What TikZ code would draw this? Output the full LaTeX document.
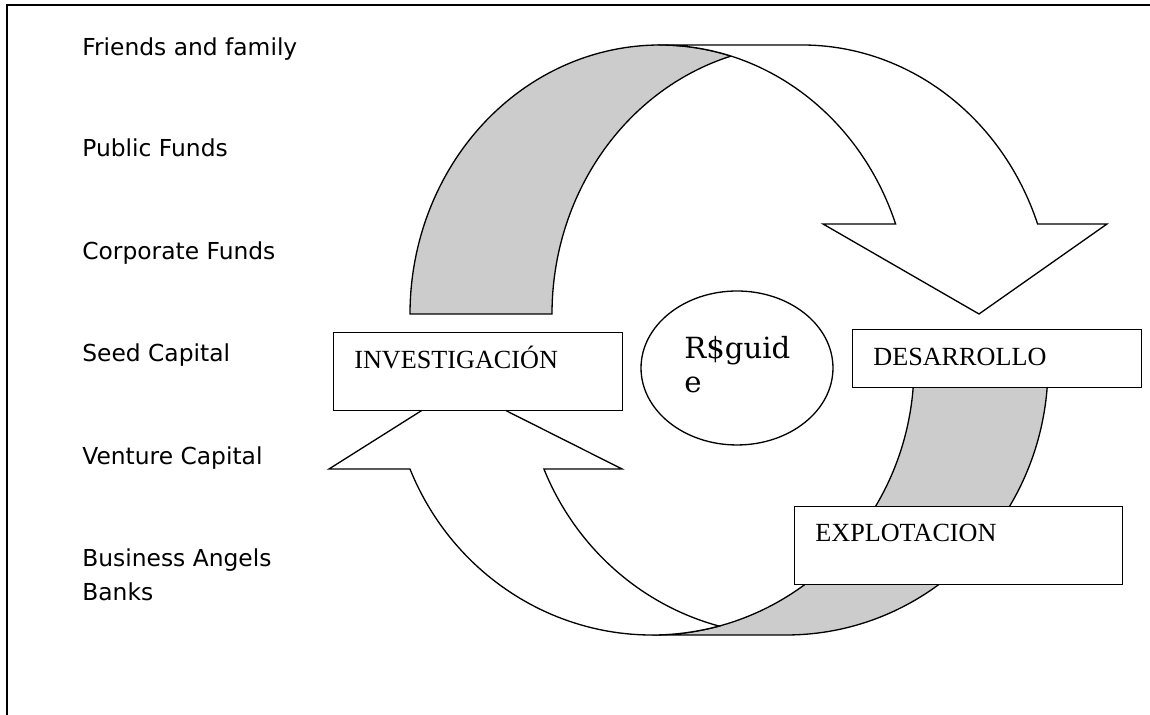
\documentclass[tikz,border=0pt]{standalone}
\usepackage{fontspec}
\setmainfont{Liberation Serif}
\newfontfamily\lsans{DejaVu Sans}
\newfontfamily\dserif{DejaVu Serif}
\usetikzlibrary{shapes.geometric}
\definecolor{band}{RGB}{204,204,204}
\tikzset{
  shape line/.style={draw=black, line width=0.75pt},
  stagebox/.style={draw=black, line width=0.75pt, fill=white, rectangle, anchor=south west, inner sep=0pt},
  stagetext/.style={anchor=base west, inner sep=0pt, font=\fontsize{14.9pt}{17pt}\selectfont},
  fundtext/.style={anchor=base west, inner sep=0pt, font=\lsans\fontsize{13.3pt}{19.3pt}\selectfont},
  centretext/.style={anchor=base west, inner sep=0pt, font=\dserif\fontsize{16.6pt}{21.5pt}\selectfont},
}
\begin{document}
\begin{tikzpicture}[x=0.02cm,y=0.02cm]
\useasboundingbox (0,0) rectangle (1150,715);
% frame
\draw[line width=1.1pt] (7,0) -- (7,710) -- (1150,710);

% top curved arrow: back (gray) part
\filldraw[shape line, fill=band] (410,401)
  arc[start angle=180, end angle=73.5, x radius=250, y radius=269]
  arc[start angle=106.5, end angle=180, x radius=250, y radius=269] -- cycle;
% top curved arrow: front (white) part with head
\filldraw[shape line, fill=white] (660,670) -- (802,670)
  arc[start angle=90, end angle=19.55, x radius=250, y radius=269]
  -- (1107,491) -- (979,401) -- (823,491) -- (895.6,491)
  arc[start angle=19.55, end angle=90, x radius=250, y radius=269] -- cycle;

% bottom curved arrow: back (gray) part
\filldraw[shape line, fill=band] (652,80)
  arc[start angle=270, end angle=360, x radius=262, y radius=269]
  -- (1048,349)
  arc[start angle=0, end angle=-90, x radius=262, y radius=269] -- cycle;
% bottom curved arrow: front (white) part with head
\filldraw[shape line, fill=white] (409.95,246.06)
  arc[start angle=202.5, end angle=284.81, x radius=262, y radius=269]
  arc[start angle=255.19, end angle=202.5, x radius=262, y radius=269]
  -- (622,246) -- (459,328) -- (329,246) -- cycle;

% stage boxes
\node[stagebox, minimum width=5.78cm, minimum height=1.56cm] (inv) at (333,304) {};
\node[stagetext] (invt) at (354,346) {INVESTIGACIÓN};
\node[stagebox, minimum width=5.78cm, minimum height=1.16cm] (des) at (852,327) {};
\node[stagetext] (dest) at (873,349) {DESARROLLO};
\node[stagebox, minimum width=6.56cm, minimum height=1.56cm] (exp) at (794,130) {};
\node[stagetext] (expt) at (815,173) {EXPLOTACION};

% centre ellipse
\node[draw=black, line width=0.75pt, fill=white, ellipse, minimum width=3.84cm, minimum height=3.08cm, inner sep=0pt] (rs) at (737,347) {};
\node[centretext] (rst) at (684,356) {R\$guid};
\node[centretext] (rst2) at (684,322) {e};

% funding sources
\node[fundtext] (f1) at (82,659) {Friends and family};
\node[fundtext] (f2) at (82,558) {Public Funds};
\node[fundtext] (f3) at (82,455) {Corporate Funds};
\node[fundtext] (f4) at (82,353) {Seed Capital};
\node[fundtext] (f5) at (82,250) {Venture Capital};
\node[fundtext] (f6) at (82,148) {Business Angels};
\node[fundtext] (f7) at (82,114) {Banks};
\end{tikzpicture}
\end{document}
